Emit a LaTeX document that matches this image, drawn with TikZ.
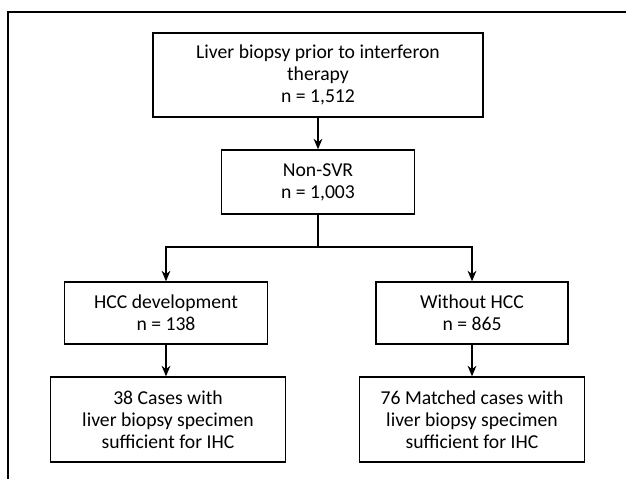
\documentclass[tikz,border=0pt]{standalone}
\usepackage{fontspec}
\setmainfont{Carlito}
\usetikzlibrary{arrows.meta}
\tikzset{
	stagebox/.style={draw, line width=0.8pt, align=center, inner sep=2pt,
		font=\fontsize{11.2}{12.6}\selectfont},
	flow/.style={line width=0.8pt, -{Stealth[length=6pt,width=5pt]}}
}
\begin{document}
\begin{tikzpicture}[x=0.02cm, y=-0.02cm]
				\useasboundingbox (0,0) rectangle (626,479);
				\draw[line width=0.8pt] (626,12) -- (8,12) -- (8,479);
				\node[stagebox, minimum width=6.6cm, minimum height=1.68cm] (biopsy) at (318,75) {Liver biopsy prior to interferon\\therapy\\n = 1,512};
				\node[stagebox, minimum width=3.86cm, minimum height=1.28cm] (nonsvr) at (318,182) {Non-SVR\\n = 1,003};
				\node[stagebox, minimum width=4.06cm, minimum height=1.24cm] (hcc) at (166,313) {HCC development\\n = 138};
				\node[stagebox, minimum width=3.84cm, minimum height=1.24cm] (nohcc) at (472,313) {Without HCC\\n = 865};
				\node[stagebox, minimum width=4.7cm, minimum height=1.7cm] (cases) at (168,419.5) {38 Cases with\\liver biopsy specimen\\sufficient for IHC};
				\node[stagebox, minimum width=4.5cm, minimum height=1.7cm] (matched) at (472,419.5) {76 Matched cases with\\liver biopsy specimen\\sufficient for IHC};
				\coordinate (split) at (318,247);
				\draw[flow] (biopsy) -- (nonsvr);
				\draw[line width=0.8pt] (nonsvr) -- (split);
				\draw[flow] (split) -| (hcc);
				\draw[flow] (split) -| (nohcc);
				\draw[flow] (hcc) -- (hcc |- cases.north);
				\draw[flow] (nohcc) -- (matched);
			\end{tikzpicture}
\end{document}
